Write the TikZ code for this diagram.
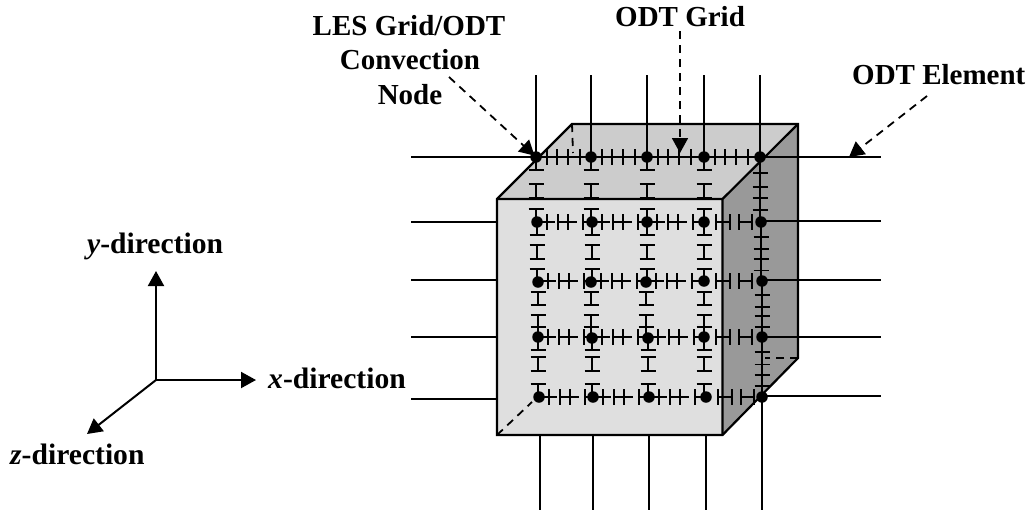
\documentclass[tikz,border=0pt]{standalone}
\usepackage{fontspec}
\setmainfont{Liberation Serif}
\usetikzlibrary{arrows.meta}
\definecolor{frontc}{HTML}{DFDFDF}
\definecolor{topc}{HTML}{CCCCCC}
\definecolor{sidec}{HTML}{999999}
\tikzset{
  dot/.style={circle,fill=black,inner sep=0pt,minimum size=11.5pt},
  wire/.style={line width=2pt,black},
  tick/.style={line width=1.7pt,black},
  edge/.style={line width=2.2pt,black,line join=miter},
  hidden/.style={line width=1.8pt,black,dash pattern=on 8pt off 6pt},
  lead/.style={line width=1.8pt,black,dash pattern=on 8pt off 6pt,-{Triangle[length=15pt,width=16pt]}},
  axis/.style={line width=2pt,black,-{Triangle[length=15pt,width=16pt]}},
  lab/.style={font=\fontsize{29}{34}\selectfont\bfseries,inner sep=0pt,anchor=base},
  dirlab/.style={font=\fontsize{29.6}{34}\selectfont\bfseries,inner sep=0pt,anchor=base west}
}
% ticks and pieces
\newcommand{\vmark}[2]{\draw[tick] ({#1-7.5},{#2}) -- ({#1+7.5},{#2});}
\newcommand{\hmark}[2]{\draw[tick] ({#1},{#2-8}) -- ({#1},{#2+8});}
\newcommand{\hgap}[3]{% x0 x1 y
  \draw[tick] (#1,#3) -- (#1+18,#3) (#1+21,#3) -- (#1+40,#3) (#1+46,#3) -- (#2,#3);
  \hmark{#1+10}{#3}\hmark{#1+21}{#3}\hmark{#1+31}{#3}\hmark{#1+46}{#3}}
\newcommand{\hend}[2]{% x0 y : the H H pieces on the side face
  \draw[tick] (#1+12,#2) -- (#1+26,#2) (#1+35,#2) -- (#1+48,#2);
  \hmark{#1+12}{#2}\hmark{#1+26}{#2}\hmark{#1+35}{#2}\hmark{#1+48}{#2}}
\newcommand{\hcont}[3]{% x0 x1 y
  \draw[tick] (#1,#3) -- (#2,#3);
  \hmark{#1+11}{#3}\hmark{#1+21}{#3}\hmark{#1+32}{#3}\hmark{#1+44}{#3}}
\newcommand{\vgapA}[4]{% x y0 y1 offset: connected, I, connected
  \draw[tick] (#1,#2) -- (#1,#2+13) (#1,#2+#4) -- (#1,#2+#4+14) (#1,#3-13) -- (#1,#3);
  \vmark{#1}{#2+13}\vmark{#1}{#2+#4}\vmark{#1}{#2+#4+14}\vmark{#1}{#3-13}}
\newcommand{\vgapB}[3]{% x y0 y1: gap, I, I connected to lower node
  \draw[tick] (#1,#2+10) -- (#1,#2+23) (#1,#2+33) -- (#1,#3);
  \vmark{#1}{#2+10}\vmark{#1}{#2+23}\vmark{#1}{#2+33}\vmark{#1}{#2+45}}
\newcommand{\vcont}[3]{% x y0 y1
  \draw[tick] (#1,#2) -- (#1,#3);
  \vmark{#1}{#2+.25*(#3-#2)}\vmark{#1}{#2+.46*(#3-#2)}\vmark{#1}{#2+.63*(#3-#2)}\vmark{#1}{#2+.82*(#3-#2)}}
\begin{document}
\begin{tikzpicture}[x=1pt,y=-1pt]
\useasboundingbox (0,0) rectangle (1032,512);
% cube faces
\path[fill=frontc] (497,199) rectangle (722.5,435);
\path[fill=topc] (497,199) -- (572,124) -- (798,124) -- (722.5,199) -- cycle;
\path[fill=sidec] (722.5,199) -- (798,124) -- (798,358) -- (722.5,435) -- cycle;
\draw[edge] (497,199) -- (572,124) -- (798,124) -- (798,358) -- (722.5,435) -- (497,435) -- cycle;
\draw[edge] (497,199) -- (722.5,199) -- (722.5,435) (722.5,199) -- (798,124);
% hidden edges
\coordinate (bl) at (497,435);
\coordinate (tb) at (572,124);
\coordinate (tbe) at (573,153);
\coordinate (br) at (798,358);
% grid nodes
\foreach \n/\x/\y in {11/536/157,12/591/157,13/647/157,14/704/157,15/760/157,
  21/537/222,22/592/222,23/647/222,24/704/222,25/761/222,
  31/538/282,32/591/282,33/646/282,34/704/281,35/762/281,
  41/538/337,42/592/338,43/648/338,44/704/337,45/762/337,
  51/539/397,52/593/397,53/649/397,54/706/397,55/762/397}
  {\node[dot] (n\n) at (\x,\y) {};}
% hidden lines
\coordinate (bla) at (532,402);
\coordinate (bra) at (765,358);
\draw[hidden] (tb) -- (tbe);
\draw[hidden] (bl) -- (bla);
\draw[hidden] (br) -- (bra);
% grid row 1 and column 5 are continuous
\hcont{536}{591}{157}\hcont{591}{647}{157}\hcont{647}{704}{157}\hcont{704}{760}{157}
\vcont{760}{157}{222}\vcont{761}{222}{281}\vcont{762}{281}{337}\vcont{762}{337}{397}
% other rows
\foreach \y/\a/\b/\c/\d/\e in {222/537/592/647/704/761,281/538/591/646/704/762,
   337/538/592/648/704/762,397/539/593/649/706/762}{
  \hgap{\a}{\b}{\y}\hgap{\b}{\c}{\y}\hgap{\c}{\d}{\y}\hend{\d}{\y}}
% other columns
\foreach \x in {536,591,647,704}{\vgapA{\x}{157}{222}{27}}
\foreach \x in {537,592,647,704}{\vgapA{\x}{222}{282}{23}}
\foreach \x in {538,591,646,704}{\vgapB{\x}{282}{337}}
\foreach \x in {538,592,648,704}{\vgapA{\x}{337}{397}{20}}
% outer wires: top
\foreach \i/\x/\n in {1/536/11,2/591/12,3/647/13,4/704/14,5/760/15}
  {\coordinate (t\i) at (\x,75); \draw[wire] (t\i) -- (n\n.center);}
% bottom
\foreach \i/\x in {1/540,2/593,3/649,4/706}
  {\coordinate (u\i) at (\x,435); \coordinate (b\i) at (\x,510); \draw[wire] (u\i) -- (b\i);}
\coordinate (b5) at (762,510);
\draw[wire] (n55.center) -- (b5);
% left
\coordinate (l1) at (411,157);
\draw[wire] (l1) -- (n11.center);
\foreach \i/\y in {2/222,3/280,4/337,5/399}
  {\coordinate (l\i) at (411,\y); \coordinate (e\i) at (497,\y); \draw[wire] (l\i) -- (e\i);}
% right
\foreach \n/\y in {15/157,25/221,35/280,45/337,55/396}
  {\coordinate (r\n) at (881,\y); \draw[wire] (n\n.center |- r\n) -- (r\n);}
% labels
\node[lab] (les1) at (409,35) {LES Grid/ODT};
\node[lab] (les2) at (410,69) {Convection};
\node[lab] (les3) at (410,104) {Node};
\node[lab,anchor=base west] (gridlab) at (615,26) {ODT Grid};
\node[lab,anchor=base west] (elemlab) at (852,84) {ODT Element};
\node[dirlab] (ylab) at (87,253) {\itshape y\upshape-direction};
\node[dirlab] (xlab) at (268,388) {\itshape x\upshape-direction};
\node[dirlab] (zlab) at (10,464) {\itshape z\upshape-direction};
% leaders
\coordinate (lesa) at (449,77);
\draw[lead,shorten >=2pt] (lesa) -- (n11.center);
\coordinate (grida) at (680,31);
\coordinate (gridb) at (680,153);
\draw[lead] (grida) -- (gridb);
\coordinate (elema) at (927,96);
\coordinate (elemb) at (849,157);
\draw[lead] (elema) -- (elemb);
% axes
\coordinate (o) at (156,380);
\coordinate (ya) at (156,271);
\coordinate (xa) at (256,380);
\coordinate (za) at (87,434);
\draw[axis] (o) -- (ya);
\draw[axis] (o) -- (xa);
\draw[axis] (o) -- (za);
\end{tikzpicture}
\end{document}
